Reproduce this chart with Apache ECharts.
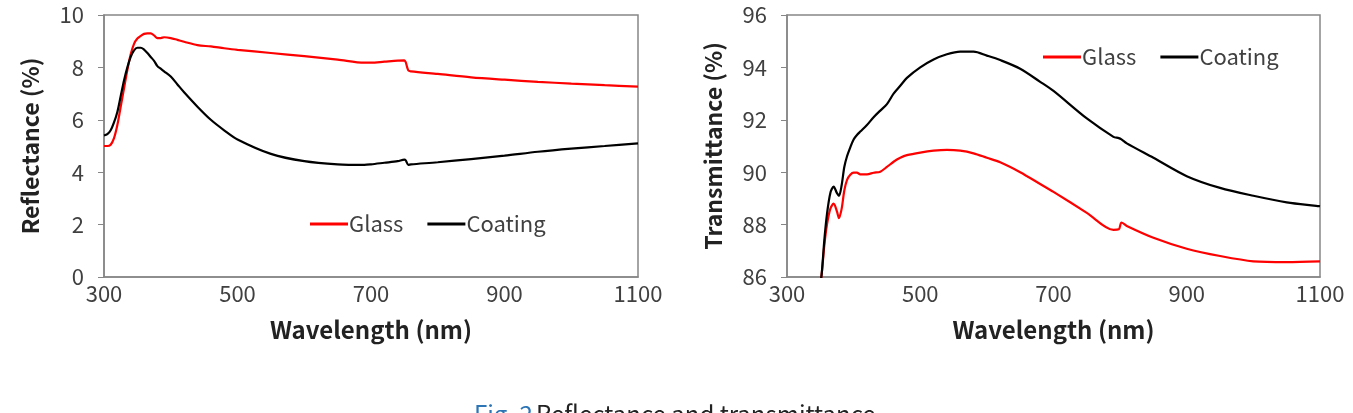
<!DOCTYPE html>
<html>
<head>
<meta charset="utf-8">
<script src="https://cdn.jsdelivr.net/npm/echarts@6/dist/echarts.min.js"></script>
<style>
  html, body { margin: 0; padding: 0; background: #fff; }
  #main { width: 1353px; height: 413px; }
</style>
</head>
<body>
<div id="main"></div>
<script>
// reflectance (left panel)
var reflWl = [300, 305, 310, 315, 320, 325, 330, 335, 340, 345, 350, 355, 360, 365, 370, 375, 380, 385, 390, 400, 410, 420, 440, 460, 480, 500, 550, 600, 650, 690, 700, 720, 740, 750, 752, 756, 760, 800, 850, 900, 950, 1000, 1050, 1100];
var reflGlass = [5.0, 5.0, 5.05, 5.3, 5.8, 6.5, 7.2, 7.9, 8.5, 8.9, 9.1, 9.2, 9.28, 9.3, 9.3, 9.22, 9.12, 9.12, 9.15, 9.12, 9.05, 8.98, 8.85, 8.8, 8.73, 8.67, 8.55, 8.43, 8.3, 8.18, 8.18, 8.22, 8.26, 8.27, 8.2, 7.88, 7.85, 7.75, 7.62, 7.53, 7.45, 7.38, 7.32, 7.27];
var reflCoating = [5.4, 5.45, 5.6, 5.9, 6.3, 6.9, 7.5, 8.0, 8.4, 8.65, 8.75, 8.75, 8.68, 8.55, 8.4, 8.25, 8.05, 7.95, 7.85, 7.65, 7.35, 7.05, 6.5, 6.0, 5.6, 5.25, 4.7, 4.42, 4.3, 4.28, 4.3, 4.36, 4.42, 4.48, 4.45, 4.28, 4.3, 4.38, 4.5, 4.63, 4.78, 4.9, 5.0, 5.1];

// transmittance (right panel)
var transWl = [348, 352, 356, 360, 365, 370, 375, 378, 382, 386, 390, 395, 400, 405, 410, 420, 430, 440, 450, 460, 470, 480, 500, 520, 540, 560, 580, 600, 620, 650, 680, 700, 750, 790, 798, 802, 810, 850, 900, 950, 1000, 1050, 1100];
var transGlass = [85.4, 86.1, 87.2, 88.0, 88.6, 88.8, 88.5, 88.25, 88.6, 89.3, 89.7, 89.9, 89.98, 89.98, 89.92, 89.92, 89.98, 90.02, 90.2, 90.4, 90.55, 90.65, 90.75, 90.82, 90.85, 90.82, 90.72, 90.55, 90.38, 90.0, 89.55, 89.25, 88.45, 87.8, 87.82, 88.08, 87.95, 87.5, 87.08, 86.8, 86.6, 86.57, 86.6];
var transCoating = [85.4, 86.1, 87.4, 88.4, 89.2, 89.45, 89.2, 89.1, 89.5, 90.2, 90.6, 90.95, 91.25, 91.42, 91.55, 91.8, 92.1, 92.35, 92.6, 93.0, 93.3, 93.6, 94.0, 94.3, 94.5, 94.6, 94.6, 94.45, 94.28, 93.95, 93.45, 93.1, 92.05, 91.35, 91.3, 91.25, 91.1, 90.55, 89.85, 89.4, 89.1, 88.85, 88.7];

var xTicks = [300, 500, 700, 900, 1100];
var legendNames = ['Glass', 'Coating'];
var caption = ['Fig. 2', 'Reflectance and transmittance'];

function pairs(xs, ys) {
  return xs.map(function (x, i) { return [x, ys[i]]; });
}

var labelFont = 'Noto Sans CJK KR';
var tickColor = '#404040';
var axisColor = '#868686';

function xAxisOpt(gi) {
  return {
    type: 'value', gridIndex: gi, min: xTicks[0], max: xTicks[xTicks.length - 1], interval: 200,
    name: 'Wavelength (nm)', nameLocation: 'middle', nameGap: 41,
    nameTextStyle: { fontFamily: labelFont, fontWeight: 'bold', fontSize: 24, color: '#222' },
    axisLine: { lineStyle: { color: axisColor, width: 1.5 } },
    axisTick: { show: false },
    splitLine: { show: false },
    axisLabel: { margin: 6, fontFamily: labelFont, fontSize: 22, color: tickColor,
      formatter: function (v) { return String(v); } }
  };
}

function yAxisOpt(gi, name, min, max) {
  return {
    type: 'value', gridIndex: gi, min: min, max: max, interval: 2,
    name: name, nameLocation: 'middle', nameGap: 62,
    nameTextStyle: { fontFamily: labelFont, fontWeight: 'bold', fontSize: 23, color: '#222' },
    axisLine: { show: true, lineStyle: { color: axisColor, width: 1.5 } },
    axisTick: { show: true, length: 6, lineStyle: { color: axisColor } },
    splitLine: { show: false },
    axisLabel: { margin: 20, fontFamily: labelFont, fontSize: 22, color: tickColor }
  };
}

function line(name, gi, data, color) {
  return {
    name: name, type: 'line', xAxisIndex: gi, yAxisIndex: gi,
    data: data, showSymbol: false, symbol: 'none', smooth: 0.3,
    lineStyle: { color: color, width: 2.2 }, itemStyle: { color: color },
    animation: false
  };
}

var legendStyle = {
  data: legendNames, orient: 'horizontal', itemWidth: 38, itemHeight: 3, itemGap: 24,
  icon: 'rect',
  textStyle: { fontFamily: labelFont, fontSize: 22, color: tickColor, padding: [0, 0, 0, -4] }
};

var chart = echarts.init(document.getElementById('main'));
chart.setOption({
  backgroundColor: '#fff',
  animation: false,
  grid: [
    { left: 104, top: 15, width: 534, height: 262, show: true, borderColor: axisColor, borderWidth: 1.5 },
    { left: 787, top: 15, width: 533, height: 262, show: true, borderColor: axisColor, borderWidth: 1.5 }
  ],
  xAxis: [xAxisOpt(0), xAxisOpt(1)],
  yAxis: [yAxisOpt(0, 'Reflectance (%)', 0, 10), yAxisOpt(1, 'Transmittance (%)', 86, 96)],
  legend: [
    Object.assign({ left: 305, top: 208 }, legendStyle),
    Object.assign({ left: 1038, top: 41 }, legendStyle)
  ],
  series: [
    line('Glass', 0, pairs(reflWl, reflGlass), '#ff0000'),
    line('Coating', 0, pairs(reflWl, reflCoating), '#000000'),
    line('Glass', 1, pairs(transWl, transGlass), '#ff0000'),
    line('Coating', 1, pairs(transWl, transCoating), '#000000')
  ],
  graphic: [{
    type: 'text', left: 474, top: 402,
    style: {
      text: '{a|' + caption[0] + '} {b|' + caption[1] + '}',
      rich: {
        a: { fontFamily: labelFont, fontSize: 24, fill: '#2e75b6' },
        b: { fontFamily: labelFont, fontSize: 24, fill: '#222' }
      }
    }
  }]
});
</script>
</body>
</html>
